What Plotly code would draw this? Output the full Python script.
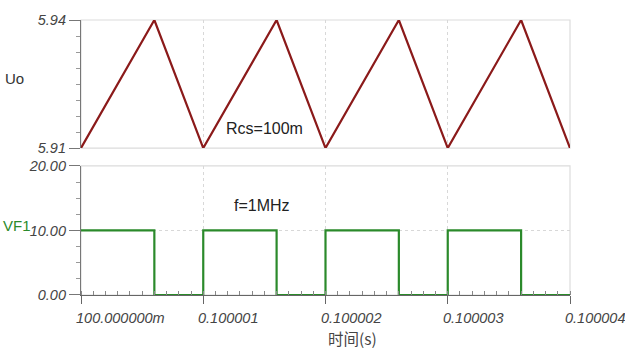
import plotly.graph_objects as go

# ---- data ----
t_uo = [0.1, 0.1000006, 0.100001, 0.1000016, 0.100002, 0.1000026, 0.100003, 0.1000036, 0.100004]
uo = [5.910, 5.940, 5.910, 5.940, 5.910, 5.940, 5.910, 5.940, 5.910]

t_vf1 = [0.1, 0.1000006, 0.1000006, 0.100001, 0.100001, 0.1000016, 0.1000016, 0.100002, 0.100002,
         0.1000026, 0.1000026, 0.100003, 0.100003, 0.1000036, 0.1000036, 0.100004]
vf1 = [10, 10, 0, 0, 10, 10, 0, 0, 10, 10, 0, 0, 10, 10, 0, 0]

x_tickvals = [0.1, 0.100001, 0.100002, 0.100003, 0.100004]
x_ticktext = ["100.000000m", "0.100001", "0.100002", "0.100003", "0.100004"]
uo_tickvals = [5.91, 5.94]
uo_ticktext = ["5.91", "5.94"]
vf_tickvals = [0, 10, 20]
vf_ticktext = ["0.00", "10.00", "20.00"]

RED = "#8b1a1a"
GREEN = "#2b8a2b"
FONT = "Liberation Sans"
tickfont = dict(family=FONT, size=14.5, color="#444", style="italic")

fig = go.Figure()
fig.add_trace(go.Scatter(x=t_uo, y=uo, mode="lines", line=dict(color=RED, width=2.2),
                         xaxis="x", yaxis="y", showlegend=False))
fig.add_trace(go.Scatter(x=t_vf1, y=vf1, mode="lines", line=dict(color=GREEN, width=2.2),
                         xaxis="x2", yaxis="y2", showlegend=False))

H = 277.0
W = 489.0
top_dom = [(295 - 147) / H, 1.0]
bot_dom = [0.0, 130 / H]

common_x = dict(range=[0.1, 0.100004], tickvals=x_tickvals, showgrid=True,
                gridcolor="#d8d8d8", griddash="dot", gridwidth=1, zeroline=False)

# x tick labels: left-aligned at each tick, as in the original
tick_annots = [
    dict(text=txt, x=val, xref="x2", y=0, yref="y2 domain", xanchor="left", yanchor="middle",
         xshift=-7, yshift=-23, showarrow=False, font=tickfont)
    for val, txt in zip(x_tickvals, x_ticktext)
]

fig.update_layout(
    width=625, height=363,
    margin=dict(l=81, r=55, t=18, b=68),
    paper_bgcolor="white", plot_bgcolor="white",
    xaxis=dict(domain=[0, 1], anchor="y", showticklabels=False, ticks="",
               showline=False, **common_x),
    xaxis2=dict(domain=[0, 1], anchor="y2", showticklabels=False,
                showline=True, linecolor="#666", linewidth=1.2,
                ticks="outside", ticklen=8, tickcolor="#666",
                minor=dict(ticks="inside", ticklen=4, tickcolor="#888",
                           tick0=0.1, dtick=1e-7, showgrid=False),
                **common_x),
    yaxis=dict(domain=top_dom, anchor="x", range=[5.91, 5.94], tickvals=uo_tickvals,
               ticktext=uo_ticktext, tickfont=tickfont, showgrid=False, zeroline=False,
               showline=True, linecolor="#777", linewidth=1.2, ticks="outside",
               ticklen=11, tickcolor="#777",
               minor=dict(ticks="outside", ticklen=4, tickcolor="#999",
                          tick0=5.91, dtick=0.00375, showgrid=False)),
    yaxis2=dict(domain=bot_dom, anchor="x2", range=[0, 20], tickvals=vf_tickvals,
                ticktext=vf_ticktext, tickfont=tickfont, zeroline=False,
                showgrid=True, gridcolor="#d8d8d8", griddash="dot",
                showline=True, linecolor="#777", linewidth=1.2, ticks="outside",
                ticklen=11, tickcolor="#777",
                minor=dict(ticks="outside", ticklen=4, tickcolor="#999",
                           tick0=0, dtick=2.5, showgrid=False)),
    shapes=[
        dict(type="rect", xref="x domain", yref="y domain", x0=0, x1=1, y0=0, y1=1,
             line=dict(color="#dcdcdc", width=1.2), layer="below"),
        dict(type="rect", xref="x2 domain", yref="y2 domain", x0=0, x1=1, y0=0, y1=1,
             line=dict(color="#dcdcdc", width=1.2), layer="below"),
    ],
    annotations=tick_annots + [
        dict(text="时间(s)", xref="paper", yref="paper", x=(352 - 81) / W, y=(295 - 338) / H,
             xanchor="center", yanchor="middle", showarrow=False,
             font=dict(family="Noto Sans CJK SC", size=15.5, color="#444")),
        dict(text="Uo", xref="paper", yref="paper", x=(14 - 81) / W, y=(295 - 77) / H,
             xanchor="center", yanchor="middle", showarrow=False,
             font=dict(family=FONT, size=15, color="#333")),
        dict(text="VF1", xref="paper", yref="paper", x=(17 - 81) / W, y=(295 - 225) / H,
             xanchor="center", yanchor="middle", showarrow=False,
             font=dict(family=FONT, size=15, color=GREEN)),
        dict(text="Rcs=100m", xref="paper", yref="paper", x=(264 - 81) / W, y=(295 - 127) / H,
             xanchor="center", yanchor="middle", showarrow=False,
             font=dict(family=FONT, size=16, color="#222")),
        dict(text="f=1MHz", xref="paper", yref="paper", x=(262 - 81) / W, y=(295 - 205) / H,
             xanchor="center", yanchor="middle", showarrow=False,
             font=dict(family=FONT, size=16, color="#222")),
    ],
)

fig.write_html("out.html", config={"displayModeBar": False},
               post_script="document.body.style.margin='0';")
